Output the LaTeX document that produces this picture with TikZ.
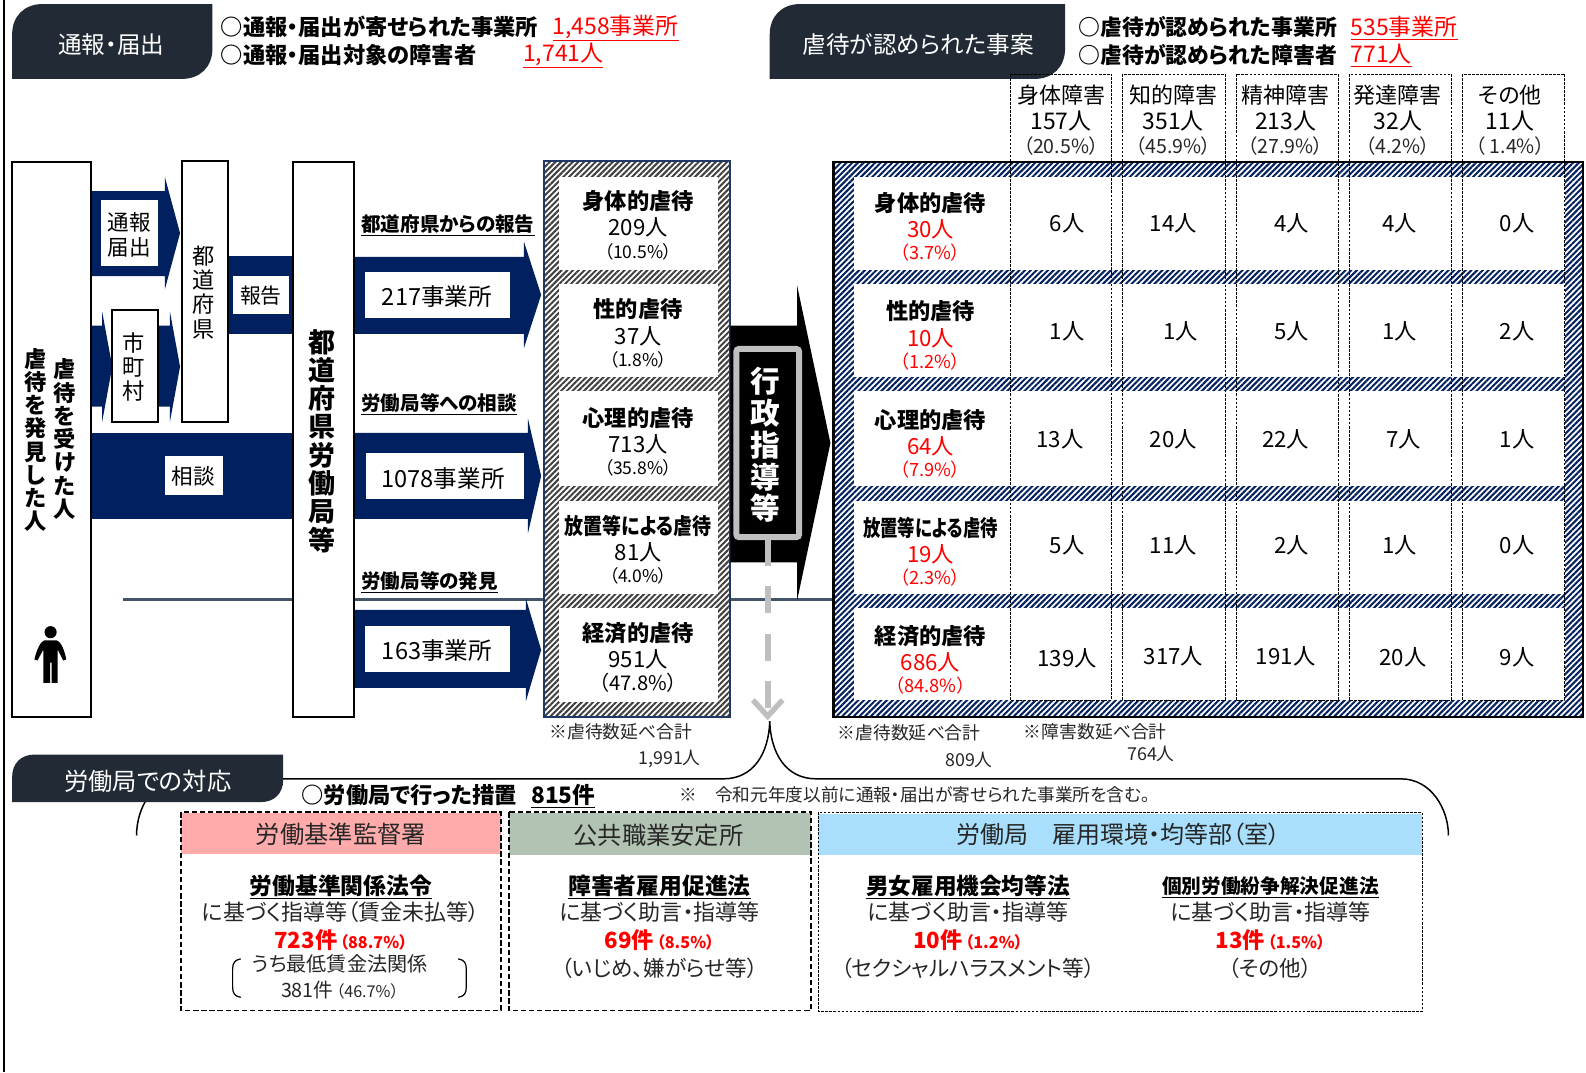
\documentclass[tikz,border=0pt]{standalone}
\usepackage{fontspec}
\setmainfont[RawFeature=+palt]{Noto Sans CJK JP}
\usetikzlibrary{patterns.meta,arrows.meta}
\definecolor{headc}{HTML}{222B35}
\definecolor{navyc}{HTML}{002060}
\definecolor{linec}{HTML}{44546A}
\definecolor{framec}{HTML}{203864}
\definecolor{redc}{HTML}{FF0000}
\definecolor{pinkc}{HTML}{FFABAB}
\definecolor{sagec}{HTML}{B3C3B3}
\definecolor{skyc}{HTML}{A9DFFC}
\definecolor{greyc}{HTML}{BFBFBF}
\definecolor{txtc}{HTML}{262626}

\begin{document}
\begin{tikzpicture}[x=0.75pt, y=-0.75pt, line join=miter]
  % styles
  \tikzset{
    fs/.style={inner sep=0pt, font=\fontsize{#1pt}{#1pt}\selectfont},
    fsb/.style={inner sep=0pt, font=\bfseries\fontsize{#1pt}{#1pt}\selectfont},
    vtext/.style 2 args={inner sep=0pt, align=center, font=\fontsize{#1pt}{#2pt}\selectfont},
    vbold/.style 2 args={inner sep=0pt, align=center, font=\bfseries\fontsize{#1pt}{#2pt}\selectfont},
    stand/.style={draw=black, line width=1.5pt, fill=white},
    flow/.style={fill=navyc},
    colframe/.style={draw=black, line width=0.5pt, dash pattern=on 2pt off 1pt},
    lawbox/.style={draw=black, line width=1.3pt, dash pattern=on 4pt off 2pt},
    numred/.style={fs=#1, text=redc}
  }

  % ----- page -----
  \useasboundingbox (0,0) rectangle (1568,1060);
  \fill[white] (0,0) rectangle (1568,1060);
  \draw[line width=1.5pt] (4,0) -- (4,1060);

  % ----- bracket round the lower part -----
  \coordinate (bracetip) at (761,713);
  \draw[line width=1.1pt] (135,826) .. controls (135,800) and (150,770) .. (180,770)
    -- (715,770) .. controls (745,770) and (760,745) .. (bracetip)
    .. controls (762,745) and (777,770) .. (807,770)
    -- (1385,770) .. controls (1415,770) and (1432,800) .. (1432,826);

  % ----- header tabs -----
  \foreach \xa/\ya/\xb/\yb/\r in {12/4/210/78/30, 761/4/1053/78/30, 12/746/280/793/22}
    \fill[headc] (\xa,\yb) -- (\xa,\ya+\r) .. controls (\xa,\ya+0.4*\r) and (\xa+0.4*\r,\ya) .. (\xa+\r,\ya)
      -- (\xb,\ya) -- (\xb,\yb-\r) .. controls (\xb,\yb-0.4*\r) and (\xb-0.4*\r,\yb) .. (\xb-\r,\yb) -- cycle;
  \node[fs=17.5, text=white] (tabreport) at (110,44) {通報・届出};
  \node[fs=17.5, text=white] (tabfound) at (908,44) {虐待が認められた事案};
  \node[fs=18, text=white] (tabbureau) at (146,772) {労働局での対応};

  % ----- top figures -----
  \node[fsb=16.5, anchor=west] (repa) at (218,27) {○通報・届出が寄せられた事業所};
  \node[fsb=16.5, anchor=west] (repb) at (218,54) {○通報・届出対象の障害者};
  \node[fs=17, text=redc, anchor=west] (repc) at (546,28) {\underline{1,458事業所}};
  \node[fs=17, text=redc, anchor=west] (repd) at (517,55) {\underline{1,741人}};
  \node[fsb=16.2, anchor=west] (fnda) at (1066,27) {○虐待が認められた事業所};
  \node[fsb=16.2, anchor=west] (fndb) at (1066,54) {○虐待が認められた障害者};
  \node[fs=17, text=redc, anchor=west] (fndc) at (1335,28) {\underline{535事業所}};
  \node[fs=17, text=redc, anchor=west] (fndd) at (1335,55) {\underline{771人}};

  % ----- line of the labour bureau's own findings -----
  \draw[linec, line width=2.2pt] (122,593) -- (825,593);

  % ----- navy flows: x from, x base, x tip, body top, body bottom, head top, head bottom -----
  \foreach \xa/\xb/\xc/\ya/\yb/\ha/\hb in {
      90/163/178/189/273/175/286,
      90/101/111/322/402/308/417,
      156/168/178/322/402/308/417,
      350/518/535/254/330/239/344,
      350/522/535/428/513/414/527,
      350/520/535/603/680/592/693}
    \fill[flow] (\xa,\ya) -- (\xb,\ya) -- (\xb,\ha) -- (\xc,{(\ha+\hb)/2}) -- (\xb,\hb) -- (\xb,\yb) -- (\xa,\yb) -- cycle;
  \fill[flow] (225,253) rectangle (290,330);
  \fill[flow] (90,428) rectangle (290,513);

  % ----- white labels on the flows -----
  \fill[white] (100,198) rectangle (156,263);
  \node[vtext={16}{19}] (lbreport) at (128,232) {通報\\届出};
  \fill[white] (230,273) rectangle (286,310);
  \node[fs=15.5] (lbprefrep) at (258,292) {報告};
  \fill[white] (163,451) rectangle (220,489);
  \node[fs=16] (lbconsult) at (191,471) {相談};
  \fill[white] (361,269) rectangle (504,314);
  \node[fs=17.5] (lbsites) at (432,293) {217事業所};
  \fill[white] (362,448) rectangle (518,493);
  \node[fs=17.5] (lbsitesb) at (438,473) {1078事業所};
  \fill[white] (361,619) rectangle (504,664);
  \node[fs=17.5] (lbsitesc) at (432,643) {163事業所};

  \node[fsb=14.5, anchor=west] (srca) at (357,223) {\underline{都道府県からの報告}};
  \node[fsb=14.5, anchor=west] (srcb) at (357,400) {\underline{労働局等への相談}};
  \node[fsb=14.5, anchor=west] (srcc) at (357,576) {\underline{労働局等の発見}};

  % ----- standing boxes -----
  \draw[stand] (12,160) rectangle (90,709);
  \draw[stand] (180,159) rectangle (225,417);
  \draw[stand] (111,306) rectangle (156,417);
  \draw[stand] (290,160) rectangle (350,709);
  \node[vbold={16.5}{17.25}] (whoa) at (64,434) {虐\\待\\を\\受\\け\\た\\人};
  \node[vbold={16.5}{17.25}] (whob) at (35,435) {虐\\待\\を\\発\\見\\し\\た\\人};
  \node[vtext={16.5}{18}] (pref) at (201,289) {都\\道\\府\\県};
  \node[vtext={16.5}{18}] (city) at (132,363) {市\\町\\村};
  \node[vbold={20}{21}] (bureau) at (318,436) {都\\道\\府\\県\\労\\働\\局\\等};

  % person
  \fill[black] (50,625) circle[radius=6];
  \fill[black] (44,633) -- (56,633) .. controls (60,634) and (64,643) .. (65.5,652)
    -- (62.5,653) -- (57,642) -- (57,675) -- (51,675) -- (51,655) -- (49.5,655) -- (49.5,675)
    -- (43,675) -- (43,642) -- (37,653) -- (34,652) .. controls (36,643) and (40,634) .. (44,633) -- cycle;

  % ----- left hatched table -----
  \path[pattern={Lines[angle=45,distance=3pt,line width=1.5pt]}, pattern color=black!75,
        preaction={fill=white}] (538,159) rectangle (722,709);
  \draw[framec, line width=1.5pt] (538,159) rectangle (722,709);
  \foreach \ya/\yb in {175/267, 281/373, 387/480, 495/587, 601/694}
    \fill[white] (553,\ya) rectangle (710,\yb);
  \foreach \nm/\ty/\cnt/\pct [count=\i] in {
      身体的虐待/199/209人/（10.5\%）,
      性的虐待/306/37人/（1.8\%）,
      心理的虐待/413/713人/（35.8\%）,
      放置等による虐待/520/81人/（4.0\%）,
      経済的虐待/626/951人/（47.8\%）} {
    \ifnum\i=4 \def\tscale{0.85}\else\def\tscale{1}\fi
    \ifnum\i=5 \def\psize{15}\else\def\psize{13}\fi
    \node[fsb=16.5] (ltitle\i) at (631,\ty) {\scalebox{\tscale}[1]{\nm}};
    \node[fs=16.5] (lcount\i) at (631,\ty+26) {\cnt};
    \node[fs=\psize] (lpct\i) at (631,\ty+49.5) {\pct};
  }

  % ----- right hatched table -----
  \path[pattern={Lines[angle=45,distance=3pt,line width=1.5pt]}, pattern color=navyc,
        preaction={fill=white}] (824,160) rectangle (1565,709);
  \draw[black, line width=1.8pt] (824,160) rectangle (1565,709);
  \foreach \ya/\yb in {175/267, 281/373, 387/480, 495/587, 601/692}
    \fill[white] (844,\ya) rectangle (1547,\yb);
  \foreach \nm/\ty/\cnt/\pct [count=\i] in {
      身体的虐待/201/30人/（3.7\%）,
      性的虐待/308/10人/（1.2\%）,
      心理的虐待/415/64人/（7.9\%）,
      放置等による虐待/522/19人/（2.3\%）,
      経済的虐待/629/686人/（84.8\%）} {
    \ifnum\i=4 \def\tscale{0.78}\else\def\tscale{1}\fi
    \node[fsb=16.5] (rtitle\i) at (920,\ty) {\scalebox{\tscale}[1]{\nm}};
    \node[numred=16.5] (rcount\i) at (920,\ty+26) {\cnt};
    \node[numred=13.5] (rpct\i) at (920,\ty+49) {\pct};
  }

  % ----- disability columns -----
  \foreach \xa/\xb in {999/1099, 1110/1211, 1222/1323, 1334/1435, 1446/1547}
    \draw[colframe] (\xa,73) rectangle (\xb,692);
  \foreach \cx/\nm/\cnt/\pct [count=\i] in {
      1049/身体障害/157人/（20.5\%）,
      1160/知的障害/351人/（45.9\%）,
      1271/精神障害/213人/（27.9\%）,
      1382/発達障害/32人/（4.2\%）,
      1493/その他/11人/（ 1.4\%）} {
    \node[fs=16.3] (dhead\i) at (\cx,94) {\nm};
    \node[fs=17] (dcount\i) at (\cx,120) {\cnt};
    \node[fs=14.5, text=txtc] (dpct\i) at (\cx,144) {\pct};
  }
  \foreach \cx/\cy/\val [count=\i] in {
      1055/221/6人, 1160/221/14人, 1277/221/4人, 1384/221/4人, 1500/221/0人,
      1055/328/1人, 1167/328/1人, 1277/328/5人, 1384/328/1人, 1500/328/2人,
      1048/434/13人, 1160/434/20人, 1271/434/22人, 1388/434/7人, 1500/434/1人,
      1055/539/5人, 1160/539/11人, 1277/539/2人, 1384/539/1人, 1500/539/0人,
      1055/651/139人, 1160/649/317人, 1271/649/191人, 1387/650/20人, 1500/650/9人}
    \node[fs=16.5] (val\i) at (\cx,\cy) {\val};

  % ----- administrative guidance arrow -----
  \fill[black] (722,322) -- (788,322) -- (788,282) -- (821,438) -- (788,594) -- (788,556) -- (722,556) -- cycle;
  \draw[greyc, line width=4.5pt, rounded corners=2pt, fill=black] (728,345) rectangle (790,531);
  \node[vbold={22}{23.6}, text=white] (guidance) at (757,440) {行\\政\\指\\導\\等};
  \coordinate (guidend) at (759,533);
  \coordinate (guidtip) at (759,712);
  \draw[greyc, line width=4.5pt, dash pattern=on 20pt off 15pt,
        -{Straight Barb[length=12pt,width=22pt,line width=4pt]}] (guidend) -- (guidtip);

  % ----- totals -----
  \node[fs=13.2, text=txtc, anchor=west] (suma) at (543,723) {※虐待数延べ合計};
  \node[fs=13.2, text=txtc] (sumb) at (662,750) {1,991人};
  \node[fs=13.2, text=txtc, anchor=west] (sumc) at (828,724) {※虐待数延べ合計};
  \node[fs=13.2, text=txtc] (sumd) at (958,751) {809人};
  \node[fs=13.2, text=txtc, anchor=west] (sume) at (1012,723) {※障害数延べ合計};
  \node[fs=13.2, text=txtc] (sumf) at (1138,745) {764人};

  % ----- bureau measures -----
  \node[fsb=16.5, anchor=west] (meas) at (298,786) {○労働局で行った措置};
  \node[fsb=16.8, anchor=west] (measn) at (525,787) {\underline{815件}};
  \node[fs=13.1, text=txtc, anchor=west] (measnote) at (672,786) {※　令和元年度以前に通報・届出が寄せられた事業所を含む。};

  \fill[pinkc] (179,804) rectangle (495,844);
  \fill[sagec] (503,804) rectangle (802,845);
  \fill[skyc] (809,805) rectangle (1406,845);
  \draw[lawbox] (179,803) rectangle (495,999);
  \draw[lawbox] (503,803) rectangle (802,999);
  \draw[colframe] (809,803) rectangle (1406,1000);

  \node[fs=18, text=txtc] (offa) at (337,825) {労働基準監督署};
  \node[fs=18, text=txtc] (offb) at (651,826) {公共職業安定所};
  \node[fs=17.8, text=txtc] (offc) at (1106,825) {労働局　雇用環境・均等部（室）};

  \foreach \cx/\lsize/\law/\how/\cnt/\pct/\note [count=\i] in {
      337/16.9/労働基準関係法令/に基づく指導等（賃金未払等）/723件/（88.7\%）/{},
      652/16.9/障害者雇用促進法/に基づく助言・指導等/69件/（8.5\%）/（いじめ、嫌がらせ等）,
      957/16.8/男女雇用機会均等法/に基づく助言・指導等/10件/（1.2\%）/（セクシャルハラスメント等）,
      1256/14.6/個別労働紛争解決促進法/に基づく助言・指導等/13件/（1.5\%）/（その他）} {
    \node[fsb=\lsize] (law\i) at (\cx,877) {\underline{\law}};
    \node[fs=16.3, text=txtc] (how\i) at (\cx,902) {\how};
    \node[fs=16.5, text=redc] (num\i) at (\cx,929) {\bfseries\cnt\kern2pt{\fontsize{12}{12}\selectfont\pct}};
    \node[fs=16, text=txtc] (note\i) at (\cx,957) {\note};
  }
  \node[fs=14.9, text=txtc] (mina) at (336,953) {うち最低賃金法関係};
  \node[fs=14.6, text=txtc] (minb) at (336,979) {381件\kern2pt{\fontsize{12}{12}\selectfont（46.7\%）}};
  \draw[line width=0.9pt] (238,948) .. controls (232,949) and (230,952) .. (230,958) -- (230,976)
    .. controls (230,982) and (232,985) .. (238,986);
  \draw[line width=0.9pt] (453,948) .. controls (459,949) and (461,952) .. (461,958) -- (461,976)
    .. controls (461,982) and (459,985) .. (453,986);
\end{tikzpicture}
\end{document}
